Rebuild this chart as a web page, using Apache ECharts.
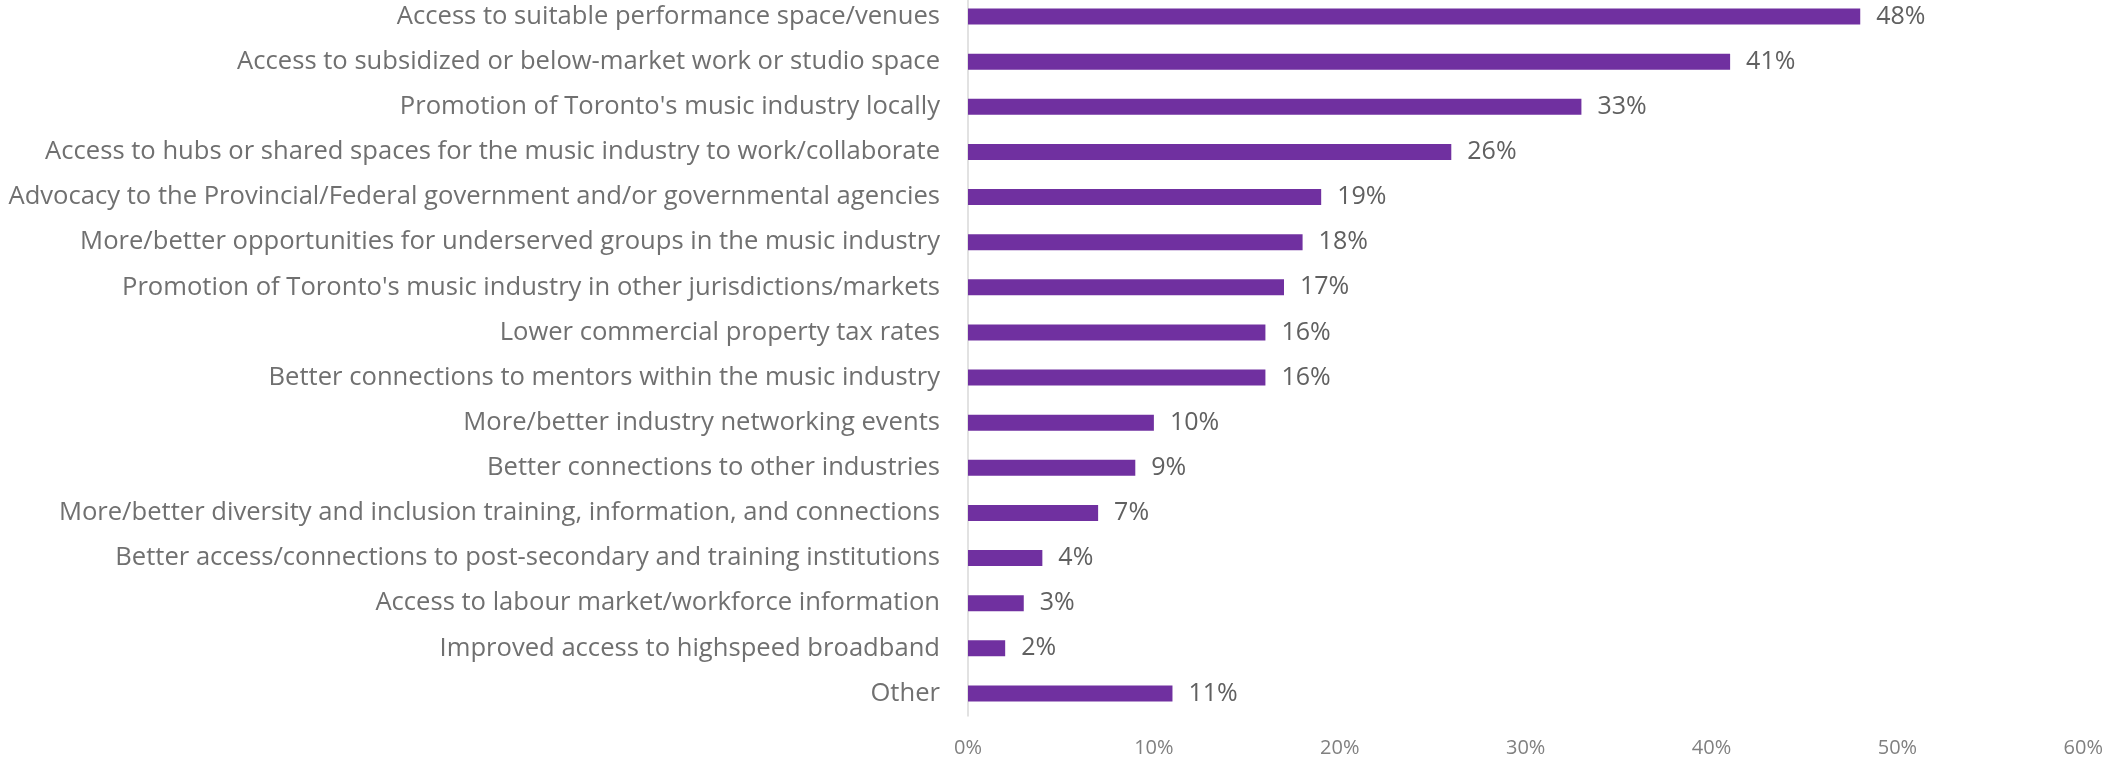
<!DOCTYPE html>
<html>
<head>
<meta charset="utf-8">
<script src="https://cdn.jsdelivr.net/npm/echarts@6/dist/echarts.min.js"></script>
<style>
  html, body { margin: 0; padding: 0; background: #ffffff; overflow: hidden; }
  /* the canvas runs 6px above the page top so the first band starts off-page */
  #chart { position: absolute; left: 0; top: -6px; width: 2106px; height: 766px; }
</style>
</head>
<body>
<div id="chart"></div>
<script>
// Survey responses: share of respondents selecting each type of support
const categories = [
  "Access to suitable performance space/venues",
  "Access to subsidized or below-market work or studio space",
  "Promotion of Toronto's music industry locally",
  "Access to hubs or shared spaces for the music industry to work/collaborate",
  "Advocacy to the Provincial/Federal government and/or governmental agencies",
  "More/better opportunities for underserved groups in the music industry",
  "Promotion of Toronto's music industry in other jurisdictions/markets",
  "Lower commercial property tax rates",
  "Better connections to mentors within the music industry",
  "More/better industry networking events",
  "Better connections to other industries",
  "More/better diversity and inclusion training, information, and connections",
  "Better access/connections to post-secondary and training institutions",
  "Access to labour market/workforce information",
  "Improved access to highspeed broadband",
  "Other"
];
const percentValues = [48, 41, 33, 26, 19, 18, 17, 16, 16, 10, 9, 7, 4, 3, 2, 11];
const axisTicks = [0, 10, 20, 30, 40, 50, 60];

const FONT = "'Open Sans', Lato, sans-serif";
const chart = echarts.init(document.getElementById('chart'));

chart.setOption({
  animation: false,
  backgroundColor: '#ffffff',
  grid: { left: 968, right: 22, top: 0, bottom: 44 },
  xAxis: {
    type: 'value',
    min: axisTicks[0],
    max: axisTicks[axisTicks.length - 1],
    interval: axisTicks[1] - axisTicks[0],
    axisLine: { show: false },
    axisTick: { show: false },
    splitLine: { show: false },
    axisLabel: {
      formatter: v => v + '%',
      color: '#808080',
      fontFamily: FONT,
      fontSize: 20,
      margin: 22
    }
  },
  yAxis: {
    type: 'category',
    data: categories,
    inverse: true,
    axisLine: { show: true, lineStyle: { color: '#d9d9d9', width: 1.5 } },
    axisTick: { show: false },
    axisLabel: {
      color: '#707070',
      fontFamily: FONT,
      fontSize: 25.6,
      margin: 28
    }
  },
  series: [{
    type: 'bar',
    data: percentValues,
    barWidth: 16,
    itemStyle: { color: '#7030a0' },
    label: {
      show: true,
      position: 'right',
      distance: 16,
      formatter: p => p.value + '%',
      color: '#606060',
      fontFamily: FONT,
      fontSize: 25
    }
  }]
});
</script>
</body>
</html>
